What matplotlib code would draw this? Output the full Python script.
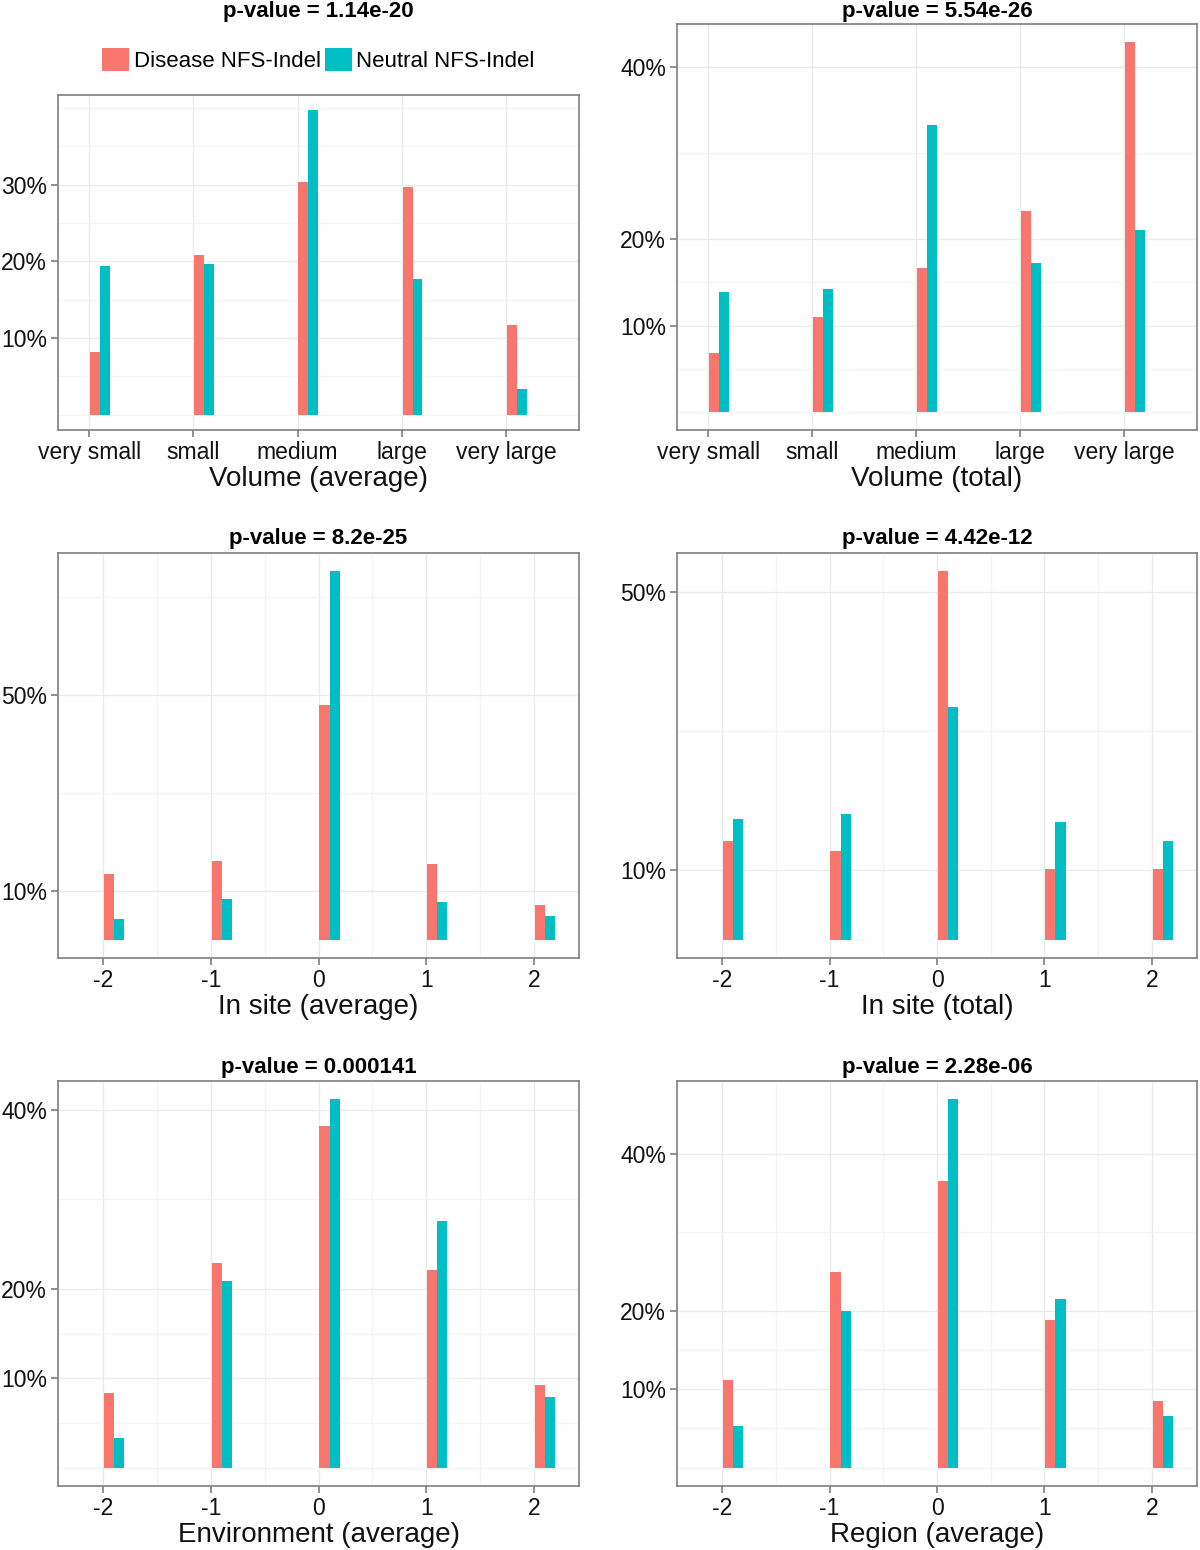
import matplotlib
matplotlib.use("Agg")
import matplotlib.pyplot as plt
from matplotlib.ticker import FixedLocator, FuncFormatter
import numpy as np

plt.rcParams['font.family'] = ['Liberation Sans', 'DejaVu Sans']

# categories
vol_labels = ["very small", "small", "medium", "large", "very large"]
scores = [-2, -1, 0, 1, 2]

# percentages
vol_avg_disease = [8.2, 20.8, 30.4, 29.7, 11.7]
vol_avg_neutral = [19.4, 19.6, 39.7, 17.7, 3.3]
vol_tot_disease = [6.8, 11.0, 16.7, 23.3, 42.9]
vol_tot_neutral = [13.9, 14.2, 33.3, 17.3, 21.1]
site_avg_disease = [13.4, 16.1, 48.0, 15.5, 7.0]
site_avg_neutral = [4.3, 8.3, 75.2, 7.7, 4.8]
site_tot_disease = [14.2, 12.7, 53.0, 10.2, 10.2]
site_tot_neutral = [17.4, 18.1, 33.5, 16.9, 14.2]
env_disease = [8.3, 22.9, 38.2, 22.1, 9.2]
env_neutral = [3.3, 20.9, 41.2, 27.6, 7.9]
region_disease = [11.1, 24.9, 36.5, 18.8, 8.5]
region_neutral = [5.3, 19.9, 46.9, 21.5, 6.6]

x_titles = ["Volume (average)", "Volume (total)", "In site (average)",
            "In site (total)", "Environment (average)", "Region (average)"]
p_values = ["p-value = 1.14e-20", "p-value = 5.54e-26", "p-value = 8.2e-25",
            "p-value = 4.42e-12", "p-value = 0.000141", "p-value = 2.28e-06"]
y_breaks = [[10, 20, 30], [10, 20, 40], [10, 50], [10, 50], [10, 20, 40], [10, 20, 40]]

panels = [
    (vol_labels, vol_avg_disease, vol_avg_neutral),
    (vol_labels, vol_tot_disease, vol_tot_neutral),
    (scores, site_avg_disease, site_avg_neutral),
    (scores, site_tot_disease, site_tot_neutral),
    (scores, env_disease, env_neutral),
    (scores, region_disease, region_neutral),
]

RED = "#F8766D"
CYAN = "#00BFC4"
BORDER = "#7f7f7f"

W, H = 1200, 1550
# panel boxes in pixels: left, top, right, bottom
boxes = [(58, 95, 579, 430), (677, 24, 1197, 430),
         (58, 553, 579, 958), (677, 553, 1197, 958),
         (58, 1081, 579, 1486), (677, 1081, 1197, 1486)]
title_y = [12, 12, 538, 538, 1067, 1067]


def minor_breaks(b):
    # ggplot-style: extend one step each side, then halve the gaps
    b = list(b)
    d0 = b[1] - b[0] if len(b) > 1 else 1
    d1 = b[-1] - b[-2] if len(b) > 1 else 1
    b = [b[0] - d0] + b + [b[-1] + d1]
    out = []
    for a, c in zip(b[:-1], b[1:]):
        out += [a, (a + c) / 2]
    out.append(b[-1])
    return out


fig = plt.figure(figsize=(12, 15.5), dpi=100)

for i, (cats, dis, neu) in enumerate(panels):
    x0, y0, x1, y1 = boxes[i]
    ax = fig.add_axes([x0 / W, 1 - y1 / H, (x1 - x0) / W, (y1 - y0) / H])

    discrete = isinstance(cats[0], str)
    if discrete:
        x = np.arange(len(cats))
        ax.set_xlim(-0.3, len(cats) - 0.3)
        ax.set_xticks(x)
        ax.set_xticklabels(cats)
    else:
        x = np.array(cats, dtype=float)
        ax.set_xlim(-2.42, 2.42)
        ax.set_xticks(x)
        ax.set_xticklabels([str(c) for c in cats])
        ax.xaxis.set_minor_locator(FixedLocator(minor_breaks(cats)))

    ax.bar(x + 0.055, dis, width=0.095, color=RED, label="Disease NFS-Indel", zorder=2)
    ax.bar(x + 0.15, neu, width=0.095, color=CYAN, label="Neutral NFS-Indel", zorder=2)

    top = max(max(dis), max(neu))
    ax.set_ylim(-0.05 * top, 1.05 * top)
    ax.yaxis.set_major_locator(FixedLocator(y_breaks[i]))
    ax.yaxis.set_minor_locator(FixedLocator(minor_breaks(y_breaks[i])))
    ax.yaxis.set_major_formatter(FuncFormatter(lambda v, p: f"{v:.0f}%"))

    ax.set_axisbelow(True)
    ax.grid(which='major', color='#EBEBEB', linewidth=1.0)
    ax.grid(which='minor', color='#F5F5F5', linewidth=1.0)
    ax.tick_params(which='minor', length=0)
    ax.tick_params(which='major', length=5, width=1.2, color=BORDER,
                   labelsize=16.5, pad=3, labelcolor='#111111')
    for s in ax.spines.values():
        s.set_color(BORDER)
        s.set_linewidth(1.2)

    ax.set_xlabel(x_titles[i], fontsize=20, labelpad=1, color='#111111')
    fig.text((x0 + x1) / 2 / W, 1 - title_y[i] / H, p_values[i],
             ha='center', va='center', fontsize=16, fontweight='bold')

    if i == 0:
        ax.legend(loc='center', bbox_to_anchor=(0.5, 1 + (95 - 60) / 335), ncol=2,
                  frameon=False, fontsize=16, handlelength=1.2, handleheight=1.2,
                  handletextpad=0.2, columnspacing=0.2, borderpad=0)

fig.savefig("out.png", dpi=100)
